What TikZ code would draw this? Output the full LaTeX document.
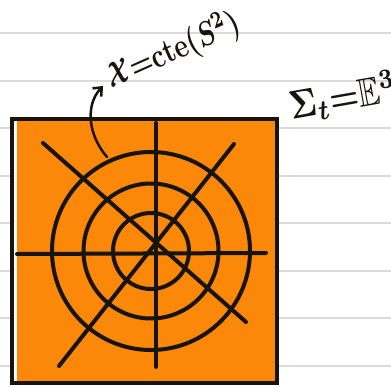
\documentclass[tikz,border=0pt]{standalone}
\usepackage{amssymb}
\usepackage{graphicx}
\usetikzlibrary{arrows.meta}
\definecolor{orng}{RGB}{251,136,8}
\definecolor{ink}{RGB}{22,20,12}
\definecolor{rulegrey}{RGB}{218,218,218}
\begin{document}
\begin{tikzpicture}[x=1pt,y=-1pt,
  ruleline/.style={draw=rulegrey,line width=1.5pt},
  boxline/.style={draw=ink,line width=4pt,fill=orng},
  webline/.style={draw=ink,line width=4pt,line cap=round},
  arrowline/.style={draw=ink,line width=2.5pt,line cap=round,-{Straight Barb[length=7pt,width=12pt,line width=2.5pt]}},
  handtext/.style={text=ink,inner sep=0pt}]
\useasboundingbox (0,0) rectangle (391,386);
\clip (0,0) rectangle (391,386);
\fill[white] (0,0) rectangle (391,386);
% ruled paper lines
\foreach \yy in {33,81,128,176,223,271,318,366}
  \draw[ruleline] (0,\yy) -- (391,\yy);
% orange square
\draw[boxline] (12,119) rectangle (277,383);
\fill[white] (14,121) rectangle (17,381);
% circles
\coordinate (cc) at (151,251);
\draw[webline] (cc) circle[radius=99];
\draw[webline] (cc) circle[radius=67.5];
\draw[webline] (cc) circle[radius=38];
% radial lines
\coordinate (hl) at (17,254);
\coordinate (hr) at (266,253);
\coordinate (vt) at (156,123);
\coordinate (vb) at (156,367);
\coordinate (d1a) at (43,143);
\coordinate (d1b) at (246,322);
\coordinate (d2a) at (234,144);
\coordinate (d2b) at (59,366);
\draw[webline] (hl) -- (hr);
\draw[webline] (vt) -- (vb);
\draw[webline] (d1a) -- (d1b);
\draw[webline] (d2a) -- (d2b);
% labels
\node[handtext,rotate=24] (lab) at (173,51) {\scalebox{2.6}[3.4]{\boldmath$\mathcal{X}{=}\mathrm{cte}(S^2)$}};
\node[handtext,rotate=10] (eq) at (343,97) {\scalebox{3.3}[4.0]{\boldmath$\Sigma_t{=}\mathbb{E}^3$}};
% arrow
\coordinate (ps) at (107,157);
\coordinate (tip) at (103,86);
\draw[arrowline] (ps) .. controls (88,135) and (85,105) .. (tip);
\end{tikzpicture}
\end{document}
